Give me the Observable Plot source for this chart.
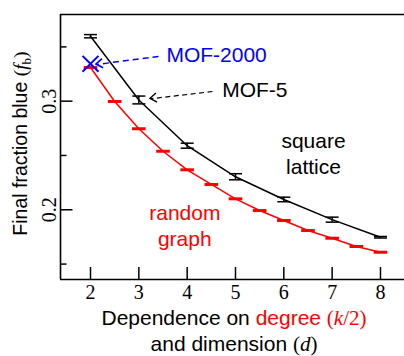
<!DOCTYPE html>
<html><head><meta charset="utf-8">
<script src="https://cdn.jsdelivr.net/npm/d3@7"></script>
<script src="https://cdn.jsdelivr.net/npm/@observablehq/plot@0.6"></script>
<style>body{margin:0;background:#fff}</style>
</head><body><div id="chart"></div>
<script>
// Square lattice (black): x = dimension d
const latticeX = [2, 3, 4, 5, 6, 7, 8];
const latticeY = [0.3598, 0.3011, 0.2590, 0.2304, 0.2095, 0.1909, 0.1747];
const latticeErr = [0.0015, 0.0036, 0.0023, 0.0028, 0.0021, 0.0023, 0.0007];
// Random graph (red): x = k/2
const randomX = [2, 2.5, 3, 3.5, 4, 4.5, 5, 5.5, 6, 6.5, 7, 7.5, 8];
const randomY = [0.3310, 0.2997, 0.2746, 0.2539, 0.2368, 0.2233, 0.2101, 0.1993, 0.1901, 0.1809, 0.1738, 0.1662, 0.1609];
// MOF-2000 point (blue X)
const mofX = [2];
const mofY = [0.3344];
// Axes
const xTicks = [2, 3, 4, 5, 6, 7, 8];
const yMajorTicks = [0.2, 0.3];
const yMinorTicks = [0.15, 0.25, 0.35];
const xDomain = [1.379, 8.497];
const yDomain = [0.1358, 0.3798];
// Annotation labels and arrows (data coordinates)
const noteLabels = ["MOF-2000", "MOF-5"];
const noteX = [3.57, 4.725];
const noteY = [0.3425, 0.3098];
const arrowFromX = [3.407, 4.524];
const arrowFromY = [0.3411, 0.3089];
const arrowToX = [2.124, 3.241];
const arrowToY = [0.3338, 0.3022];
const arrowDash = ["6,4", "5,3.5"];
const arrowWidth = [1.5, 1.2];
const seriesLabels = ["square\nlattice", "random\ngraph"];
const seriesLabelX = [6.614, 3.951];
const seriesLabelY = [0.2331, 0.1671];

const RED = "#ff0000", BLUE = "#0000ff", BLACK = "#000000";
const noteColors = [BLUE, BLACK];
const seriesColors = [BLACK, RED];
const SANS = "Liberation Sans, Arial, sans-serif";
const SERIF = "Liberation Serif, Times New Roman, serif";

const lattice = latticeX.map((x, i) => ({x, y: latticeY[i], e: latticeErr[i]}));
const random = randomX.map((x, i) => ({x, y: randomY[i]}));
const mof = mofX.map((x, i) => ({x, y: mofY[i]}));
const notes = noteLabels.map((t, i) => ({t, x: noteX[i], y: noteY[i], c: noteColors[i]}));
const arrows = arrowFromX.map((x1, i) => ({x1, y1: arrowFromY[i], x2: arrowToX[i], y2: arrowToY[i], c: noteColors[i], dash: arrowDash[i], w: arrowWidth[i]}));
const sLabels = seriesLabels.map((t, i) => ({t, x: seriesLabelX[i], y: seriesLabelY[i], c: seriesColors[i]}));

const hbar = {draw(context, size) { const r = Math.sqrt(size / Math.PI); context.moveTo(-r, 0); context.lineTo(r, 0); }};

// open chevron arrowheads at the tips, positioned through the plot's scales
function arrowHeads(index, scales) {
  const g = d3.create("svg:g").attr("fill", "none");
  const L = 8, w = 35 * Math.PI / 180;
  for (const a of arrows) {
    const x1 = scales.x(a.x1), y1 = scales.y(a.y1), x2 = scales.x(a.x2), y2 = scales.y(a.y2);
    const ang = Math.atan2(y1 - y2, x1 - x2);
    const d = `M${x2 + L * Math.cos(ang + w)},${y2 + L * Math.sin(ang + w)}L${x2},${y2}L${x2 + L * Math.cos(ang - w)},${y2 + L * Math.sin(ang - w)}`;
    g.append("path").attr("d", d).attr("stroke", a.c).attr("stroke-width", a.w + 0.2);
  }
  return g.node();
}

function titles(index, scales, values, dims) {
  const g = d3.create("svg:g");
  const cx = dims.marginLeft + (dims.width - dims.marginLeft - dims.marginRight) / 2 + 2;
  const by = dims.height - dims.marginBottom;
  const t1 = g.append("text").attr("x", cx).attr("y", by + 46).attr("text-anchor", "middle")
    .attr("font-size", 21).attr("font-family", SANS).attr("fill", BLACK);
  t1.append("tspan").text("Dependence on ");
  t1.append("tspan").attr("fill", RED).text("degree ");
  t1.append("tspan").attr("fill", RED).attr("font-family", SERIF).text("(");
  t1.append("tspan").attr("fill", RED).attr("font-family", SERIF).attr("font-style", "italic").text("k");
  t1.append("tspan").attr("fill", RED).attr("font-family", SERIF).text("/2)");
  const t2 = g.append("text").attr("x", cx).attr("y", by + 72).attr("text-anchor", "middle")
    .attr("font-size", 21).attr("font-family", SANS).attr("fill", BLACK);
  t2.append("tspan").text("and dimension ");
  t2.append("tspan").attr("font-family", SERIF).text("(");
  t2.append("tspan").attr("font-family", SERIF).attr("font-style", "italic").text("d");
  t2.append("tspan").attr("font-family", SERIF).text(")");
  const cy = dims.marginTop + (dims.height - dims.marginTop - dims.marginBottom) / 2 - 3;
  const t3 = g.append("text").attr("transform", `translate(27,${cy}) rotate(-90)`).attr("text-anchor", "middle")
    .attr("font-size", 19.5).attr("font-family", SANS).attr("fill", BLACK);
  t3.append("tspan").text("Final fraction blue ");
  t3.append("tspan").attr("font-family", SERIF).text("(");
  t3.append("tspan").attr("font-family", SERIF).attr("font-style", "italic").text("f");
  t3.append("tspan").attr("font-family", SERIF).attr("font-size", 13).attr("dy", 4).text("b");
  t3.append("tspan").attr("font-family", SERIF).attr("dy", -4).text(")");
  return g.node();
}

const chart = Plot.plot({
  width: 404, height: 356,
  marginLeft: 60, marginRight: 0, marginTop: 14, marginBottom: 77,
  style: {fontFamily: SANS, fontSize: "21px", background: "#fff", overflow: "visible"},
  x: {domain: xDomain, axis: null},
  y: {domain: yDomain, axis: null},
  marks: [
    // frame lines
    Plot.ruleX([xDomain[0]], {stroke: BLACK, strokeWidth: 1.6}),
    Plot.ruleY([yDomain[0]], {stroke: BLACK, strokeWidth: 1.6}),
    Plot.ruleY([yDomain[1]], {stroke: BLACK, strokeWidth: 1.6}),
    // inward ticks
    Plot.axisX({ticks: xTicks, tickSize: -12, tickFormat: () => "", strokeWidth: 1.5}),
    Plot.axisY({ticks: yMajorTicks, tickSize: -12.5, tickFormat: () => "", strokeWidth: 1.5}),
    Plot.axisY({ticks: yMinorTicks, tickSize: -6.5, tickFormat: () => "", strokeWidth: 1.5}),
    // tick labels
    Plot.axisX({ticks: xTicks, tickSize: 0, tickPadding: 5, fontSize: 20, fontFamily: SERIF, tickFormat: d => String(d), fill: BLACK}),
    Plot.axisY({ticks: yMajorTicks, tickSize: 0, tickPadding: 5, tickRotate: -90, fontSize: 20, fontFamily: SERIF, tickFormat: d => String(d), fill: BLACK}),
    // square lattice
    Plot.line(lattice, {x: "x", y: "y", stroke: BLACK, strokeWidth: 1.5}),
    Plot.ruleX(lattice, {x: "x", y1: d => d.y - d.e, y2: d => d.y + d.e, stroke: BLACK, strokeWidth: 1.5}),
    Plot.dot(lattice, {x: "x", y: d => d.y - d.e, symbol: hbar, r: 6.5, fill: "none", stroke: BLACK, strokeWidth: 1.5}),
    Plot.dot(lattice, {x: "x", y: d => d.y + d.e, symbol: hbar, r: 6.5, fill: "none", stroke: BLACK, strokeWidth: 1.5}),
    // random graph
    Plot.line(random, {x: "x", y: "y", stroke: RED, strokeWidth: 1.5}),
    Plot.dot(random, {x: "x", y: "y", symbol: hbar, r: 6.8, fill: "none", stroke: RED, strokeWidth: 3}),
    // MOF-2000
    Plot.dot(mof, {x: "x", y: "y", symbol: "times", r: 7.3, stroke: BLUE, strokeWidth: 2}),
    // annotation arrows: dashed shaft + solid open head
    Plot.link(arrows.slice(0, 1), {x1: "x1", y1: "y1", x2: "x2", y2: "y2", stroke: "c", strokeWidth: arrowWidth[0], strokeDasharray: arrowDash[0]}),
    Plot.link(arrows.slice(1, 2), {x1: "x1", y1: "y1", x2: "x2", y2: "y2", stroke: "c", strokeWidth: arrowWidth[1], strokeDasharray: arrowDash[1]}),
    arrowHeads,
    Plot.text(notes, {x: "x", y: "y", text: "t", fill: "c", textAnchor: "start", lineAnchor: "middle", fontSize: 21}),
    Plot.text(sLabels, {x: "x", y: "y", text: "t", fill: "c", textAnchor: "middle", lineAnchor: "bottom", lineHeight: 1.22, fontSize: 21}),
    titles
  ]
});
document.getElementById("chart").appendChild(chart);
</script>
</body></html>
